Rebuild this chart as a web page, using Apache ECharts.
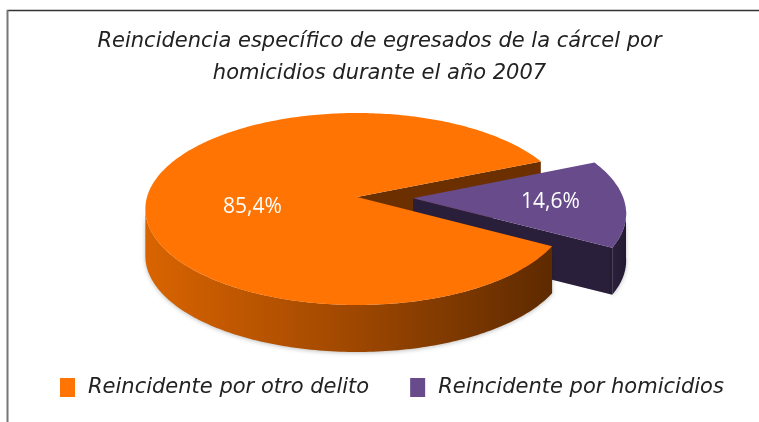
<!DOCTYPE html>
<html>
<head>
<meta charset="utf-8">
<script src="https://cdn.jsdelivr.net/npm/echarts@6/dist/echarts.min.js"></script>
<style>
  html, body { margin: 0; padding: 0; background: #fff; }
  #main { width: 759px; height: 422px; }
</style>
</head>
<body>
<div id="main"></div>
<script>
// datos del grafico
var categories = ['Reincidente por otro delito', 'Reincidente por homicidios'];
var values = [85.4, 14.6];
var exploded = [false, true];
var titleText = 'Reincidencia específico de egresados de la cárcel por\nhomicidios durante el año 2007';

// colores (cara superior, pared, corte)
var topColors = ['#ff7402', '#674b8b'];
var cutColors = ['#6c3000', '#2a1f3a'];
var wallColors = [['#d96400', '#a04800', '#5e2a00'], ['#2c213e', '#281d37', '#211830']];

// geometria del pastel 3d (con perspectiva)
var cx = 357, cy = 197, Rx = 210, Ry = 94.5, persp = 0.125, depth = 47, explodeOff = 0.267;
var rotation = -3; // angulo medio de la porcion separada
var labelPos = [[0.5, 12], [0.65, 0]]; // radio, desplazamiento vertical

var total = values.reduce(function (a, b) { return a + b; }, 0);
var explodedIdx = exploded.indexOf(true);
var startAngle = 90;
if (explodedIdx >= 0) {
    startAngle = rotation - values[explodedIdx] / total * 180;
    for (var k0 = 0; k0 < explodedIdx; k0++) startAngle -= values[k0] / total * 360;
}

function sliceAngles(i) {
    var a = startAngle;
    for (var k = 0; k < i; k++) a += values[k] / total * 360;
    return [a, a + values[i] / total * 360];
}

function proj(u, v, dz) {
    var w = 1 + persp * v;
    return [cx + Rx * u / w, cy - Ry * v / w + dz];
}

function rim(a, dz, du, dv) {
    var r = a * Math.PI / 180;
    return proj(du + Math.cos(r), dv + Math.sin(r), dz);
}

function arc(a0, a1, dz, du, dv) {
    var pts = [];
    var n = Math.max(2, Math.ceil(Math.abs(a1 - a0)));
    for (var s = 0; s <= n; s++) pts.push(rim(a0 + (a1 - a0) * s / n, dz, du, dv));
    return pts;
}

function renderItem(params, api) {
    var i = params.dataIndex;
    var ang = sliceAngles(i);
    var a0 = ang[0], a1 = ang[1];
    var mid = (a0 + a1) / 2;
    var mr = mid * Math.PI / 180;
    var ex = exploded[i];
    var du = ex ? explodeOff * Math.cos(mr) : 0;
    var dv = ex ? explodeOff * Math.sin(mr) : 0;
    var apex = proj(du, dv, 0);
    var apexB = proj(du, dv, depth);
    var children = [];

    // caras de corte visibles (camara en v = -1/persp)
    var camU = -du, camV = -1 / persp - dv;
    [[a0, 1], [a1, -1]].forEach(function (e) {
        var r = e[0] * Math.PI / 180;
        var nu = e[1] * Math.sin(r), nv = -e[1] * Math.cos(r);
        if (camU * nu + camV * nv <= 0) return;
        var t = rim(e[0], 0, du, dv), b = rim(e[0], depth, du, dv);
        children.push({
            type: 'polygon', z2: ex ? 2 : 1,
            shape: { points: [apex, t, b, apexB] },
            style: { fill: cutColors[i] }
        });
    });

    // pared exterior (parte frontal)
    var sil = Math.asin(persp) * 180 / Math.PI;
    [-720, -360, 0, 360].forEach(function (base) {
        var s = Math.max(a0, base + 180 + sil), e = Math.min(a1, base + 360 - sil);
        if (e <= s) return;
        var top = arc(s, e, 0, du, dv);
        var bot = arc(e, s, depth, du, dv);
        children.push({
            type: 'polygon', z2: ex ? 2 : 4,
            shape: { points: top.concat(bot) },
            style: {
                fill: new echarts.graphic.LinearGradient(0, 0, 1, 0, [
                    { offset: 0, color: wallColors[i][0] },
                    { offset: 0.5, color: wallColors[i][1] },
                    { offset: 1, color: wallColors[i][2] }
                ]),
                shadowBlur: 4, shadowColor: 'rgba(0,0,0,0.25)', shadowOffsetY: 1
            }
        });
    });

    // cara superior
    children.push({
        type: 'polygon', z2: ex ? 3 : 5,
        shape: { points: [apex].concat(arc(a0, a1, 0, du, dv)) },
        style: { fill: topColors[i] }
    });

    // etiqueta
    var lp = proj(du + labelPos[i][0] * Math.cos(mr), dv + labelPos[i][0] * Math.sin(mr), labelPos[i][1]);
    children.push({
        type: 'text', z2: 10,
        style: {
            text: api.value(0).toFixed(1).replace('.', ',') + '%',
            x: lp[0], y: lp[1],
            fill: '#ffffff',
            font: '21px "Open Sans", "Noto Sans", sans-serif',
            align: 'center', verticalAlign: 'middle'
        }
    });

    return { type: 'group', children: children };
}

var myChart = echarts.init(document.getElementById('main'));
var series = [{
    name: 'pastel',
    type: 'custom',
    coordinateSystem: 'none',
    renderItem: renderItem,
    data: values,
    silent: true
}];
categories.forEach(function (c, i) {
    series.push({
        name: c,
        type: 'custom',
        coordinateSystem: 'none',
        renderItem: function () { return null; },
        itemStyle: { color: topColors[i] },
        data: []
    });
});

var option = {
    backgroundColor: '#ffffff',
    animation: false,
    title: {
        text: titleText,
        left: 'center',
        top: 21,
        textStyle: {
            fontFamily: 'DejaVu Sans',
            fontStyle: 'italic',
            fontWeight: 'normal',
            fontSize: 21,
            lineHeight: 32,
            color: '#222'
        }
    },
    legend: {
        data: categories,
        left: 55,
        top: 372,
        icon: 'rect',
        itemWidth: 15,
        itemHeight: 19,
        itemGap: 41,
        textStyle: {
            fontFamily: 'DejaVu Sans',
            fontStyle: 'italic',
            fontSize: 21,
            color: '#222',
            padding: [0, 0, 0, 8]
        }
    },
    graphic: [
        { type: 'line', shape: { x1: 7, y1: 10.5, x2: 759, y2: 10.5 }, style: { stroke: '#333', lineWidth: 1.5 } },
        { type: 'line', shape: { x1: 7.5, y1: 10, x2: 7.5, y2: 422 }, style: { stroke: '#777', lineWidth: 2 } }
    ],
    series: series
};
myChart.setOption(option);
</script>
</body>
</html>
